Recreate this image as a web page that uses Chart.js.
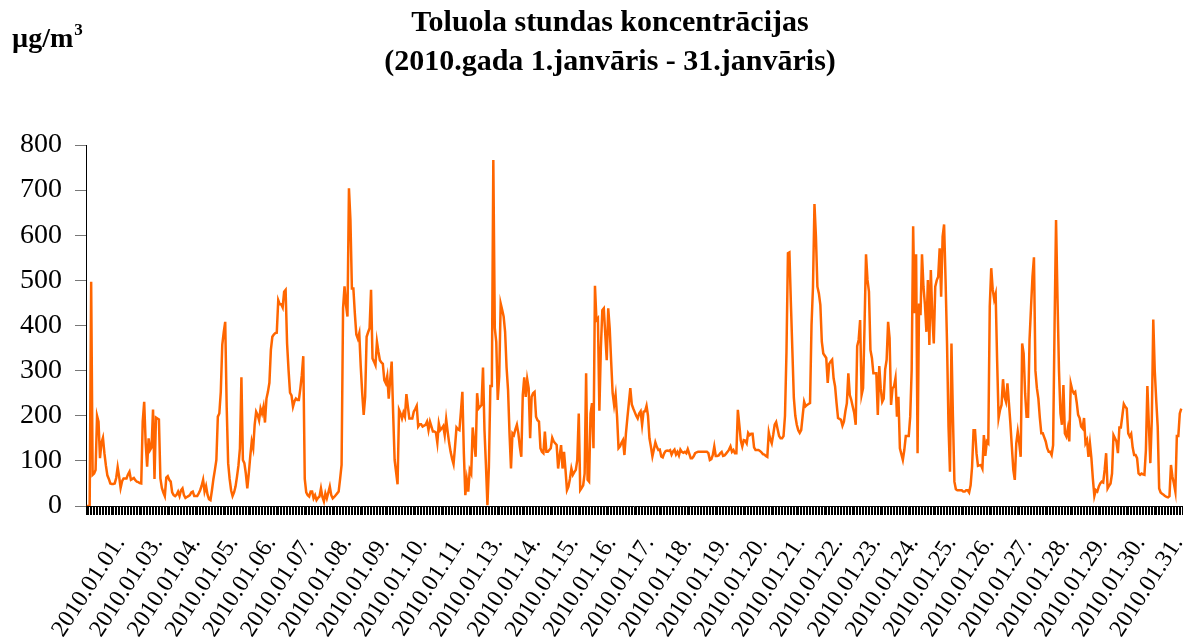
<!DOCTYPE html>
<html>
<head>
<meta charset="utf-8">
<title>Toluola stundas koncentrācijas</title>
<script src="https://cdn.jsdelivr.net/npm/chart.js@4.4.0/dist/chart.umd.min.js"></script>
<style>
  html, body { margin: 0; padding: 0; background: #fff; }
  #wrap { position: relative; width: 1184px; height: 639px; }
</style>
</head>
<body>
<div id="wrap"><canvas id="tolueneChart"></canvas></div>
<script>
const titleLines = ["Toluola stundas koncentrācijas", "(2010.gada 1.janvāris - 31.janvāris)"];
const unitLabel = "µg/m";
const unitPower = "3";

// days and hours make up the hourly categories
const days = [
    "2010.01.01.", "2010.01.02.", "2010.01.03.", "2010.01.04.", "2010.01.05.", "2010.01.06.", "2010.01.07.", "2010.01.08.",
    "2010.01.09.", "2010.01.10.", "2010.01.11.", "2010.01.12.", "2010.01.13.", "2010.01.14.", "2010.01.15.", "2010.01.16.",
    "2010.01.17.", "2010.01.18.", "2010.01.19.", "2010.01.20.", "2010.01.21.", "2010.01.22.", "2010.01.23.", "2010.01.24.",
    "2010.01.25.", "2010.01.26.", "2010.01.27.", "2010.01.28.", "2010.01.29.", "2010.01.30.", "2010.01.31."
];
const hours = [
    "01:00", "02:00", "03:00", "04:00", "05:00", "06:00", "07:00", "08:00", "09:00", "10:00", "11:00", "12:00",
    "13:00", "14:00", "15:00", "16:00", "17:00", "18:00", "19:00", "20:00", "21:00", "22:00", "23:00", "24:00"
];

// labels printed under the axis (02 and 12 are not shown in the original)
const dateTicks = [
    "2010.01.01.", "2010.01.03.", "2010.01.04.", "2010.01.05.", "2010.01.06.", "2010.01.07.", "2010.01.08.", "2010.01.09.",
    "2010.01.10.", "2010.01.11.", "2010.01.13.", "2010.01.14.", "2010.01.15.", "2010.01.16.", "2010.01.17.", "2010.01.18.",
    "2010.01.19.", "2010.01.20.", "2010.01.21.", "2010.01.22.", "2010.01.23.", "2010.01.24.", "2010.01.25.", "2010.01.26.",
    "2010.01.27.", "2010.01.28.", "2010.01.29.", "2010.01.30.", "2010.01.31."
];

// toluene, µg/m3, one row per day (24 hours)
const toluene = [
    0, 0, 0, 497, 69, 72, 80, 200, 187, 106, 140, 151, 117, 90, 68, 60, 50, 49, 49, 50, 62, 86, 65, 40,
    55, 61, 61, 61, 70, 76, 58, 60, 62, 57, 54, 53, 51, 50, 187, 231, 140, 87, 150, 124, 130, 214, 60, 196,
    194, 192, 61, 40, 30, 22, 63, 66, 58, 54, 30, 24, 22, 25, 32, 22, 35, 39, 24, 18, 20, 22, 24, 30,
    32, 22, 22, 22, 28, 35, 45, 58, 32, 44, 25, 15, 13, 35, 60, 80, 102, 198, 205, 253, 357, 385, 408, 220,
    95, 60, 35, 22, 30, 43, 65, 90, 128, 285, 102, 95, 72, 39, 72, 110, 143, 128, 180, 209, 202, 190, 216, 205,
    220, 185, 238, 253, 273, 346, 375, 380, 383, 384, 456, 447, 447, 440, 475, 479, 360, 301, 251, 245, 220, 232, 238, 235,
    235, 260, 290, 332, 60, 30, 24, 21, 32, 32, 17, 24, 13, 18, 21, 39, 20, 10, 28, 17, 30, 43, 24, 17,
    20, 24, 28, 32, 60, 91, 438, 487, 445, 420, 704, 634, 482, 482, 427, 380, 371, 383, 309, 250, 202, 242, 375, 385,
    394, 479, 327, 320, 312, 364, 342, 323, 318, 315, 279, 272, 288, 238, 280, 320, 205, 102, 75, 48, 213, 205, 194, 207,
    198, 248, 220, 194, 194, 194, 209, 215, 222, 176, 181, 181, 176, 178, 180, 187, 168, 187, 176, 165, 165, 163, 140, 183,
    168, 172, 177, 157, 192, 165, 140, 120, 105, 93, 131, 174, 170, 168, 209, 253, 117, 24, 58, 32, 80, 72, 174, 140,
    109, 250, 216, 220, 224, 307, 168, 90, 2, 87, 266, 266, 767, 394, 364, 235, 287, 449, 435, 420, 386, 307, 257, 161,
    83, 161, 157, 170, 180, 161, 131, 109, 246, 285, 242, 281, 261, 150, 242, 250, 253, 198, 190, 187, 128, 120, 117, 165,
    120, 120, 124, 128, 151, 143, 139, 135, 83, 110, 135, 83, 120, 80, 35, 43, 60, 83, 69, 75, 80, 102, 205, 35,
    40, 46, 72, 294, 58, 54, 205, 228, 128, 488, 412, 416, 211, 349, 434, 438, 380, 323, 438, 394, 320, 250, 224, 246,
    198, 128, 132, 140, 146, 113, 160, 195, 228, 261, 225, 216, 208, 200, 194, 205, 210, 180, 209, 210, 222, 200, 150, 131,
    110, 125, 141, 131, 124, 125, 110, 108, 117, 122, 123, 122, 124, 114, 121, 125, 114, 120, 112, 125, 120, 118, 120, 117,
    126, 116, 106, 106, 110, 117, 119, 120, 120, 120, 120, 120, 120, 120, 117, 102, 104, 113, 132, 111, 111, 112, 117, 120,
    111, 112, 116, 120, 125, 132, 120, 124, 117, 117, 213, 180, 145, 132, 146, 145, 139, 162, 157, 160, 160, 130, 124, 124,
    124, 122, 119, 115, 114, 111, 109, 163, 148, 139, 158, 180, 186, 170, 155, 150, 150, 155, 200, 340, 560, 562, 450, 345,
    240, 200, 180, 168, 162, 168, 200, 231, 221, 224, 226, 228, 400, 486, 669, 597, 486, 471, 446, 364, 338, 333, 328, 273,
    315, 320, 324, 283, 265, 228, 195, 193, 191, 178, 187, 210, 228, 294, 246, 235, 220, 206, 180, 354, 368, 412, 246, 261,
    400, 558, 501, 475, 346, 328, 294, 294, 294, 202, 310, 260, 231, 238, 303, 324, 408, 372, 224, 261, 265, 283, 198, 242,
    128, 115, 102, 124, 155, 155, 155, 198, 302, 620, 427, 558, 117, 449, 423, 558, 486, 446, 386, 501, 357, 523, 420, 360,
    486, 500, 508, 571, 464, 597, 624, 501, 360, 176, 76, 360, 198, 54, 37, 35, 35, 35, 35, 32, 32, 35, 35, 30,
    46, 87, 168, 168, 117, 89, 90, 91, 83, 157, 111, 143, 139, 442, 527, 480, 458, 470, 323, 195, 213, 224, 281, 242,
    231, 272, 228, 183, 131, 80, 58, 139, 165, 140, 109, 360, 338, 250, 198, 198, 368, 440, 508, 551, 300, 261, 238, 195,
    161, 161, 152, 143, 128, 120, 120, 113, 135, 400, 634, 457, 300, 205, 180, 268, 161, 154, 172, 143, 271, 257, 250, 253,
    230, 202, 195, 176, 172, 195, 139, 146, 109, 139, 106, 60, 22, 35, 32, 43, 50, 54, 52, 80, 117, 39, 45, 50,
    72, 157, 150, 143, 117, 174, 174, 200, 226, 220, 216, 161, 154, 160, 130, 113, 113, 106, 72, 69, 72, 70, 69, 124,
    266, 180, 95, 191, 413, 300, 235, 176, 39, 30, 27, 25, 22, 20, 19, 22, 91, 65, 50, 32, 155, 155, 205, 216
];

const hourlyLabels = days.flatMap(d => hours.map(h => d + " " + h));

const SERIF = '"Liberation Serif", "Times New Roman", serif';

// title block and unit, drawn on the canvas
const headerPlugin = {
    id: "header",
    afterDraw(chart) {
        const ctx = chart.ctx;
        ctx.save();
        ctx.fillStyle = "#000";
        ctx.textBaseline = "alphabetic";
        ctx.font = "bold 30px " + SERIF;
        ctx.textAlign = "center";
        ctx.fillText(titleLines[0], 610, 31);
        ctx.fillText(titleLines[1], 610, 70);

        ctx.font = "bold 28px " + SERIF;
        ctx.textAlign = "left";
        ctx.fillText(unitLabel, 12, 47);
        const w = ctx.measureText(unitLabel).width;
        ctx.font = "bold 17px " + SERIF;
        ctx.fillText(unitPower, 12 + w + 1, 35);
        ctx.restore();
    }
};

function initChart() {
    const ctx = document.getElementById("tolueneChart").getContext("2d");

    new Chart(ctx, {
        type: "line",
        data: {
            labels: hourlyLabels,
            datasets: [{
                label: "Toluols",
                data: toluene,
                borderColor: "#ff6600",
                borderWidth: 2.5,
                pointRadius: 0,
                tension: 0,
                fill: false
            }]
        },
        options: {
            responsive: true,
            maintainAspectRatio: false,
            animation: false,
            layout: {
                padding: { top: 145, right: 2, left: 0, bottom: 0 }
            },
            plugins: {
                legend: { display: false },
                tooltip: { enabled: false }
            },
            scales: {
                x: {
                    offset: true,
                    grid: {
                        offset: true,
                        drawOnChartArea: false,
                        tickLength: 9,
                        color: "#000",
                        lineWidth: 1
                    },
                    border: { display: true, color: "#000", width: 1 },
                    ticks: { display: false, autoSkip: false },
                    afterFit: s => { s.height = 10; s.paddingLeft = 0; s.paddingRight = 0; }
                },
                dates: {
                    axis: "x",
                    type: "category",
                    position: "bottom",
                    labels: dateTicks,
                    offset: true,
                    weight: 1,
                    grid: { display: false },
                    border: { display: false },
                    ticks: {
                        autoSkip: false,
                        minRotation: 57,
                        maxRotation: 57,
                        padding: 7,
                        labelOffset: 15,
                        color: "#000",
                        font: { family: SERIF, size: 24 }
                    },
                    // labels may run off the bottom, as in the original
                    afterFit: s => { s.height = 123; s.paddingLeft = 0; s.paddingRight = 0; }
                },
                y: {
                    min: 0,
                    max: 800,
                    ticks: {
                        stepSize: 100,
                        padding: 13,
                        color: "#000",
                        font: { family: SERIF, size: 28 }
                    },
                    grid: {
                        drawOnChartArea: false,
                        tickLength: 11,
                        color: "#777"
                    },
                    border: { color: "#000", width: 1 },
                    afterFit: s => { s.width = 86; }
                }
            }
        },
        plugins: [headerPlugin]
    });
}

window.onload = () => {
    initChart();
};
</script>
</body>
</html>
